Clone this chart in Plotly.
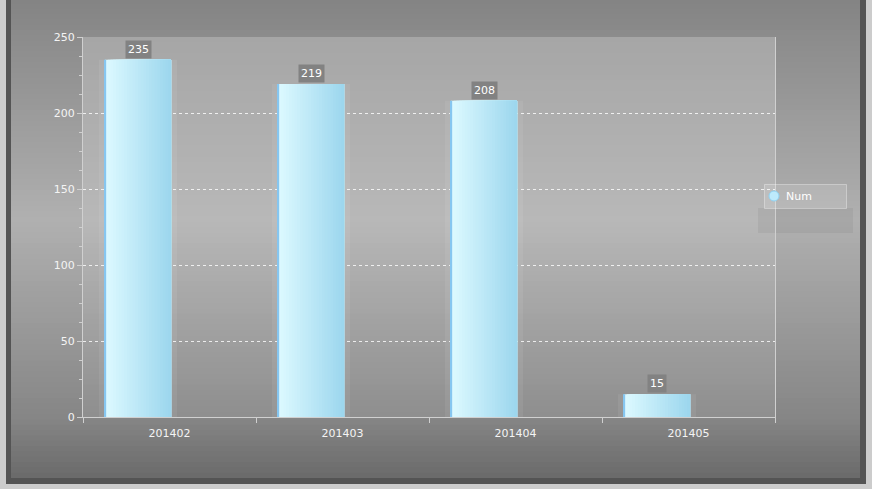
import plotly.graph_objects as go

# chart data
months = ["201402", "201403", "201404", "201405"]
num_values = [235, 219, 208, 15]
series_name = "Num"

W, H = 872, 489
L, R, T, B = 83, 97, 37, 72          # margins -> plot area 83..775 x 37..417
PW, PH = W - L - R, H - T - B

# grey profile (pixel row, grey level) outside and inside the plot area
outer_profile = [(0, 0x84), (220, 0xb0), (417, 0x86), (478, 0x6a)]
inner_profile = [(37, 0xa6), (220, 0xb8), (417, 0x8e)]


def px_x(px):
    return (px - L) / PW


def px_y(py):
    return (H - B - py) / PH


def lerp(a, b, t):
    return a + (b - a) * t


def grey_at(profile, y):
    if y <= profile[0][0]:
        return profile[0][1]
    for (ya, ga), (yb, gb) in zip(profile, profile[1:]):
        if y <= yb:
            return lerp(ga, gb, (y - ya) / (yb - ya))
    return profile[-1][1]


def hexmix(c1, c2, t):
    c1 = [int(c1[i:i + 2], 16) for i in (1, 3, 5)]
    c2 = [int(c2[i:i + 2], 16) for i in (1, 3, 5)]
    return "rgb(%d,%d,%d)" % tuple(round(lerp(a, b, t)) for a, b in zip(c1, c2))


def gradient_bands(profile, x0, x1, top, bottom, n):
    out = []
    for i in range(n):
        y0 = top + (bottom - top) * i / n
        y1 = top + (bottom - top) * (i + 1) / n
        g = round(grey_at(profile, (y0 + y1) / 2))
        y1 = min(y1 + 2, bottom)
        out.append(dict(type="rect", xref="paper", yref="paper", layer="below",
                        x0=px_x(x0), x1=px_x(x1), y0=px_y(y0), y1=px_y(y1),
                        fillcolor="rgb(%d,%d,%d)" % (g, g, g), line_width=0))
    return out


shapes = []

# dark frame
shapes.append(dict(type="rect", xref="paper", yref="paper", layer="below",
                   x0=px_x(6), x1=px_x(866), y0=px_y(-2), y1=px_y(484),
                   fillcolor="#545454", line_width=0))

# chart background and plot area gradients
shapes += gradient_bands(outer_profile, 11, 860, -2, 478, 90)
shapes += gradient_bands(inner_profile, 83, 775, 37, 417, 70)

# legend shadow, box and round marker
shapes.append(dict(type="rect", xref="paper", yref="paper", layer="below",
                   x0=px_x(758), x1=px_x(853), y0=px_y(233), y1=px_y(208),
                   fillcolor="rgba(0,0,0,0.05)", line_width=0))
shapes.append(dict(type="rect", xref="paper", yref="paper", layer="above",
                   x0=px_x(764.5), x1=px_x(846.5), y0=px_y(208.5), y1=px_y(184.5),
                   fillcolor="rgba(255,255,255,0.13)",
                   line=dict(color="rgba(255,255,255,0.35)", width=1)))
shapes.append(dict(type="circle", xref="paper", yref="paper", layer="above",
                   x0=px_x(769), x1=px_x(779), y0=px_y(201), y1=px_y(191),
                   fillcolor="#bdeafc", line=dict(color="#8fd2f2", width=1)))

fig = go.Figure()

bar_offset = -0.373
bar_width = 0.382

# soft shadow behind bars
fig.add_trace(go.Bar(
    x=months, y=num_values, offset=bar_offset - 0.035, width=bar_width + 0.07,
    marker=dict(color="rgba(255,255,255,0.07)", line_width=0),
    showlegend=False, hoverinfo="skip"))

# horizontal gradient bars: slices drawn over each other, each running to the right edge
n_slices = 24
slice_w = bar_width / n_slices
for i in range(n_slices):
    t = i / (n_slices - 1)
    color = hexmix("#dcf9ff", "#9dd7ee", t)
    fig.add_trace(go.Bar(
        x=months, y=num_values, offset=bar_offset + i * slice_w,
        width=bar_width - i * slice_w,
        marker=dict(color=color, line_width=0),
        showlegend=False, hoverinfo="skip"))

# left edge highlight
fig.add_trace(go.Bar(
    x=months, y=num_values, offset=bar_offset, width=0.007, name=series_name,
    marker=dict(color="#86c6f0", line_width=0),
    showlegend=False, hovertemplate="%{x}: %{y}<extra></extra>"))

label_shift = (bar_offset + bar_width / 2) * PW / len(months)
annotations = []
for i, v in enumerate(num_values):
    annotations.append(dict(
        x=i, y=v, xref="x", yref="y", text=str(v), showarrow=False,
        xshift=label_shift, yshift=1, yanchor="bottom",
        bgcolor="#828282", borderpad=2,
        font=dict(family="DejaVu Sans", size=11, color="white")))

# legend text
annotations.append(dict(
    x=px_x(784), y=px_y(196.5), xref="paper", yref="paper", text=series_name,
    showarrow=False, xanchor="left", yanchor="middle",
    font=dict(family="DejaVu Sans", size=11, color="white")))

fig.update_layout(
    width=W, height=H,
    margin=dict(l=L, r=R, t=T, b=B, autoexpand=False),
    paper_bgcolor="#cccccc",
    plot_bgcolor="rgba(0,0,0,0)",
    barmode="overlay",
    shapes=shapes,
    annotations=annotations,
    font=dict(family="DejaVu Sans", size=11, color="#f4f4f4"),
    showlegend=False,
    xaxis=dict(type="category", categoryorder="array", categoryarray=months,
               range=[-0.5, len(months) - 0.5], automargin=False,
               tickson="boundaries", ticks="outside", ticklen=5, ticklabelstandoff=6,
               tickcolor="#d0d0d0", showline=True, linecolor="#d0d0d0", linewidth=1,
               showgrid=False, zeroline=False, fixedrange=True, tickangle=0,
               tickfont=dict(size=11, color="#f4f4f4")),
    yaxis=dict(range=[0, 250], dtick=50, ticks="outside", ticklen=5, tickcolor="#d0d0d0",
               automargin=False,
               showline=True, linecolor="#d0d0d0", linewidth=1, mirror=True,
               showgrid=True, gridcolor="rgba(255,255,255,0.8)", griddash="dot", gridwidth=1,
               zeroline=False, fixedrange=True,
               minor=dict(dtick=12.5, ticks="outside", ticklen=3, tickcolor="#d0d0d0",
                          showgrid=False),
               tickfont=dict(size=11, color="#f4f4f4")),
)

fig.write_html("out.html", config={"displayModeBar": False},
               post_script="document.body.style.margin='0';"
                           "document.body.style.background='#cccccc';")
